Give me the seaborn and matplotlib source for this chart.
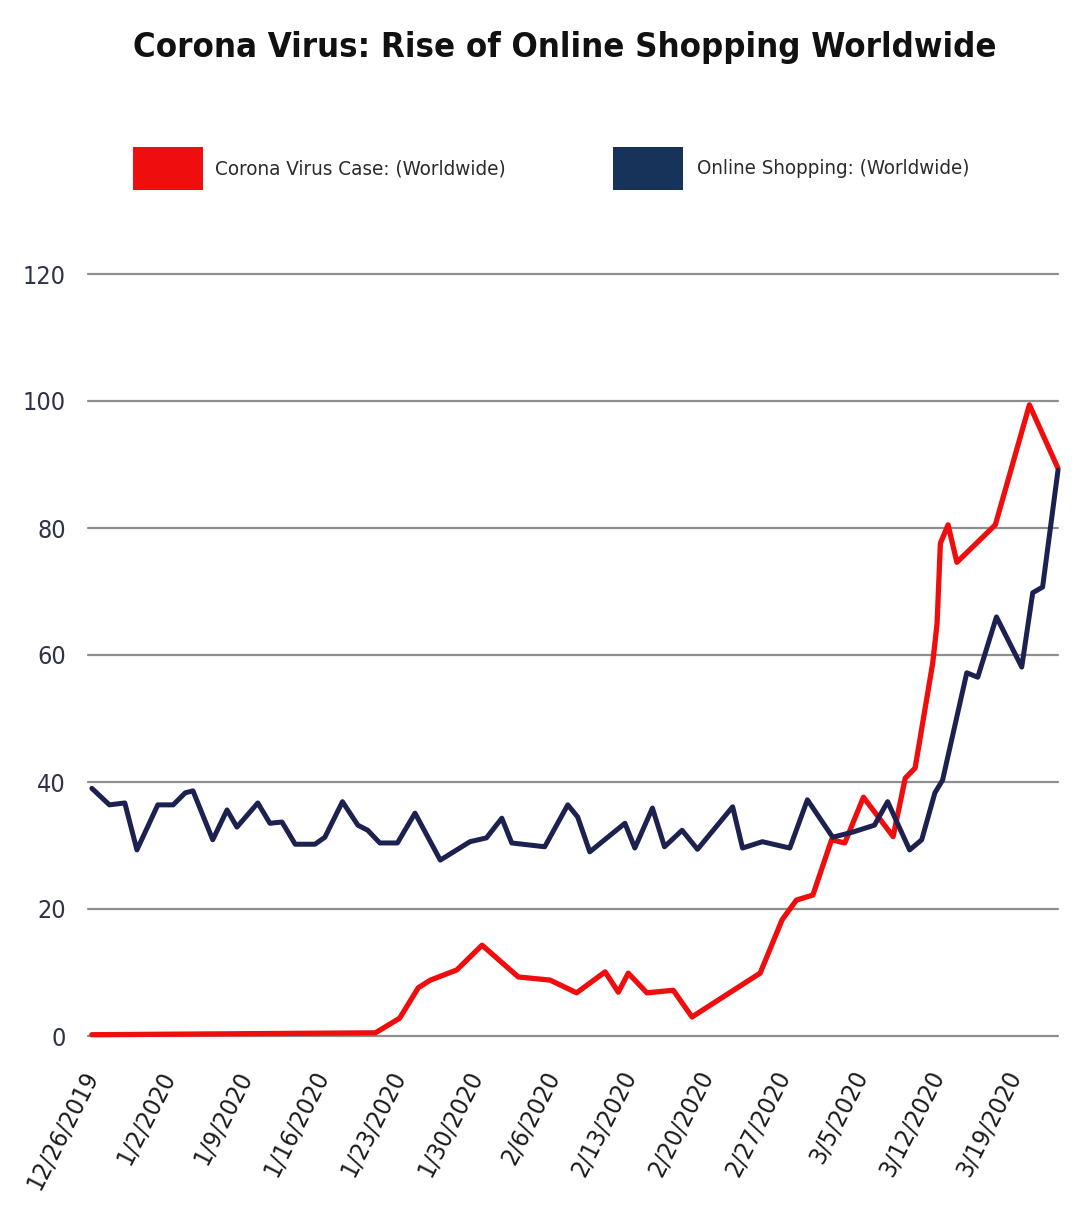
import matplotlib
matplotlib.use("Agg")
import matplotlib.pyplot as plt
import matplotlib.font_manager as fm
from matplotlib.patches import Rectangle
import seaborn as sns
import pandas as pd

# ---------------- data ----------------
start_date = "2019-12-26"
tick_labels = ["12/26/2019", "1/2/2020", "1/9/2020", "1/16/2020", "1/23/2020",
               "1/30/2020", "2/6/2020", "2/13/2020", "2/20/2020", "2/27/2020",
               "3/5/2020", "3/12/2020", "3/19/2020"]
y_ticks = [0, 20, 40, 60, 80, 100, 120]

series_names = ["Corona Virus Case: (Worldwide)", "Online Shopping: (Worldwide)"]

# days after 12/26/2019 and values
red_days = [0, 25.8, 28.0, 29.7, 30.8, 33.2, 35.5, 38.8, 41.7, 44.1,
            46.7, 47.9, 48.8, 50.5, 52.9, 54.6, 60.8, 62.8, 64.1, 65.6,
            67.3, 68.5, 70.2, 72.9, 74.0, 74.9, 76.5, 76.9, 77.2, 77.9,
            78.7, 82.2, 85.3, 87.9]
red_vals = [0.2, 0.5, 2.8, 7.6, 8.8, 10.4, 14.3, 9.3, 8.8, 6.8,
            10.1, 6.9, 9.9, 6.8, 7.2, 3.0, 9.9, 18.3, 21.4, 22.2,
            30.9, 30.4, 37.6, 31.4, 40.6, 42.2, 58.7, 65.0, 77.6, 80.5,
            74.6, 80.5, 99.4, 89.4]

blue_days = [0, 1.6, 3.0, 4.1, 6.0, 7.4, 8.5, 9.2, 11.0, 12.3,
             13.2, 15.1, 16.2, 17.3, 18.5, 20.3, 21.2, 22.8, 24.2, 25.1,
             26.2, 27.8, 29.4, 31.7, 34.4, 35.9, 37.3, 38.2, 41.2, 43.3,
             44.2, 45.3, 48.5, 49.4, 51.0, 52.1, 53.7, 55.1, 58.3, 59.2,
             61.0, 63.5, 65.1, 67.4, 69.2, 71.2, 72.4, 74.4, 75.5, 76.7,
             77.4, 79.6, 80.6, 82.3, 84.6, 85.6, 86.5, 87.9]
blue_vals = [39.0, 36.4, 36.7, 29.3, 36.4, 36.4, 38.3, 38.6, 30.9, 35.6,
             32.9, 36.7, 33.5, 33.7, 30.2, 30.2, 31.3, 36.9, 33.2, 32.4,
             30.4, 30.4, 35.1, 27.7, 30.6, 31.2, 34.3, 30.4, 29.8, 36.4,
             34.5, 29.0, 33.5, 29.6, 35.9, 29.8, 32.4, 29.4, 36.1, 29.6,
             30.6, 29.6, 37.2, 31.3, 32.1, 33.2, 36.9, 29.3, 30.9, 38.3,
             40.3, 57.2, 56.5, 66.0, 58.1, 69.8, 70.7, 89.1]

RED = "#f00d0d"
NAVY = "#1c2150"
NAVY_BOX = "#18335a"

# ---------------- style / fonts ----------------
sns.set_theme(style="white")
avail = {(f.name, f.stretch) for f in fm.fontManager.ttflist}
names = {n for n, _ in avail}
if "Liberation Sans Narrow" in names:
    FAM, STRETCH = "Liberation Sans Narrow", "normal"
elif ("DejaVu Sans", "condensed") in avail:
    FAM, STRETCH = "DejaVu Sans", "condensed"
elif ("DejaVu Sans", "semi-condensed") in avail:
    FAM, STRETCH = "DejaVu Sans", "semi-condensed"
else:
    FAM, STRETCH = "Open Sans", "normal"
plt.rcParams["font.family"] = [FAM, "DejaVu Sans"]
plt.rcParams["font.stretch"] = STRETCH

W, H = 1076, 1232
fig = plt.figure(figsize=(W / 100, H / 100), dpi=100)
fig.patch.set_facecolor("white")

ax_left, ax_right, ax_top, ax_bottom = 88, 1058, 274, 1036
ax = fig.add_axes([ax_left / W, 1 - ax_bottom / H,
                   (ax_right - ax_left) / W, (ax_bottom - ax_top) / H])

base = pd.Timestamp(start_date)
red_df = pd.DataFrame({"date": base + pd.to_timedelta(red_days, unit="D"),
                       "value": red_vals})
blue_df = pd.DataFrame({"date": base + pd.to_timedelta(blue_days, unit="D"),
                        "value": blue_vals})

sns.lineplot(data=red_df, x="date", y="value", color=RED, linewidth=3.8,
             ax=ax, sort=False, zorder=3, clip_on=False)
sns.lineplot(data=blue_df, x="date", y="value", color=NAVY, linewidth=3.6,
             ax=ax, sort=False, zorder=4, clip_on=False)

ax.set_xlim(base - pd.Timedelta(days=0.35), base + pd.Timedelta(days=87.9))
ax.set_ylim(0, 120)
ax.set_yticks(y_ticks)
ax.set_yticklabels([str(v) for v in y_ticks])
tick_dates = pd.date_range(start_date, periods=len(tick_labels), freq="7D")
ax.set_xticks(tick_dates)
ax.set_xticklabels(tick_labels, rotation=63, ha="right", va="center",
                   rotation_mode="anchor")
ax.set_xlabel("")
ax.set_ylabel("")
ax.grid(axis="y", color="#8e8e8e", linewidth=1.6)
ax.grid(axis="x", visible=False)
for gl in ax.get_ygridlines():
    gl.set_clip_on(False)
for s in ax.spines.values():
    s.set_visible(False)
ax.tick_params(axis="both", length=0)
ax.tick_params(axis="y", pad=16, labelsize=18, labelcolor="#2f3347")
ax.tick_params(axis="x", pad=26, labelsize=18, labelcolor="#1a1a1a")

# ---------------- title ----------------
title = fig.text(565 / W, 1 - 48 / H, "Corona Virus: Rise of Online Shopping Worldwide",
                 ha="center", va="center", fontsize=36, color="#111111",
                 fontweight="bold")

# ---------------- legend ----------------
fig.add_artist(Rectangle((133 / W, 1 - 190 / H), 70 / W, 43 / H,
                         transform=fig.transFigure, color=RED, lw=0))
fig.add_artist(Rectangle((613 / W, 1 - 190 / H), 70 / W, 43 / H,
                         transform=fig.transFigure, color=NAVY_BOX, lw=0))
leg1 = fig.text(215 / W, 1 - 169 / H, series_names[0], ha="left", va="center",
                fontsize=20, color="#2a2a2a")
leg2 = fig.text(697 / W, 1 - 169 / H, series_names[1], ha="left", va="center",
                fontsize=20, color="#2a2a2a")

# fit text widths to the reference footprint
fig.canvas.draw()
r = fig.canvas.get_renderer()
for t, target in [(title, 862), (leg1, 290), (leg2, 273)]:
    w = t.get_window_extent(r).width
    t.set_fontsize(t.get_fontsize() * target / w)

fig.savefig("out.png", dpi=100, facecolor="white")
